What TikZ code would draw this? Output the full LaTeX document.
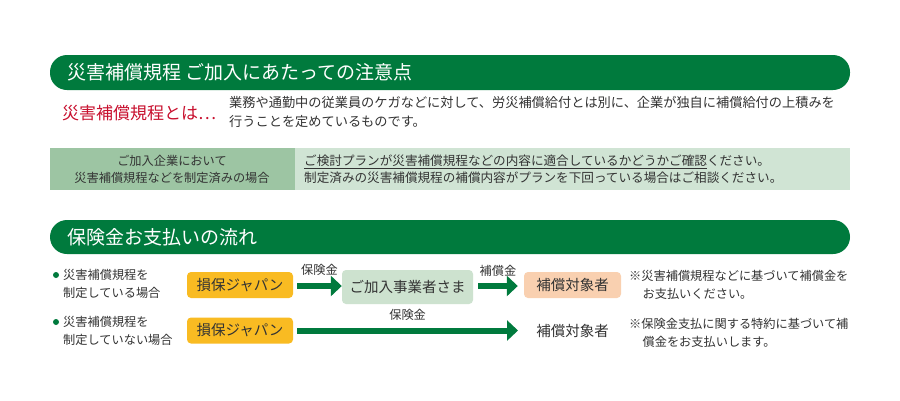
\documentclass[tikz,border=0pt]{standalone}
\usepackage{fontspec}
\setmainfont{Noto Sans CJK JP}
\usetikzlibrary{arrows.meta}
\definecolor{dg}{HTML}{007A3D}
\definecolor{cellA}{HTML}{9DC5A3}
\definecolor{cellB}{HTML}{D0E4D4}
\definecolor{orb}{HTML}{F9BB22}
\definecolor{grb}{HTML}{CDE2CF}
\definecolor{pkb}{HTML}{F9D0B0}
\definecolor{rd}{HTML}{C8102E}
\definecolor{tx}{HTML}{333333}
\tikzset{
 bar/.style={fill=dg,rounded corners=17pt},
 bartext/.style={anchor=west,text=white,font=\fontsize{19}{19}\selectfont,inner sep=0pt},
 small/.style={text=tx,font=\fontsize{12.2}{18}\selectfont,inner sep=0pt},
 boxo/.style={fill=orb,rounded corners=4pt,minimum width=106pt,minimum height=26pt,text=tx,font=\fontsize{14.5}{14}\selectfont},
 flow/.style={-{Triangle[length=11pt,width=20pt]},line width=6pt,draw=dg},
}
\begin{document}
\begin{tikzpicture}[x=1pt,y=-1pt]
\useasboundingbox (0,0) rectangle (900,400);
\fill[white] (0,0) rectangle (900,400);
% header 1
\fill[bar] (50,55) rectangle (850,90);
\node[bartext] (h1) at (67,72.5) {災害補償規程 ご加入にあたっての注意点};
\node[anchor=west,text=rd,font=\fontsize{17}{17}\selectfont,inner sep=0pt] (red) at (62,113) {災害補償規程とは…};
\node[small,anchor=north west,align=left,font=\fontsize{13.2}{19}\selectfont] (body) at (229,96) {業務や通勤中の従業員のケガなどに対して、労災補償給付とは別に、企業が独自に補償給付の上積みを\\行うことを定めているものです。};
% table
\fill[cellA] (50,148) rectangle (295,190);
\fill[cellB] (295,148) rectangle (850,190);
\node[small,align=center,font=\fontsize{12.2}{17}\selectfont] (tl) at (172,169) {ご加入企業において\\災害補償規程などを制定済みの場合};
\node[small,anchor=west,align=left,font=\fontsize{12.6}{17}\selectfont] (tr) at (304,169) {\underline{ご検討プランが災害補償規程などの内容に適合しているかどうかご確認}ください。\\制定済みの災害補償規程の補償内容がプランを下回っている場合はご相談ください。};
% header 2
\fill[bar] (50,220) rectangle (850,254);
\node[bartext] (h2) at (67,237) {保険金お支払いの流れ};
% row 1
\fill[dg] (56,275) circle (3pt);
\node[small,anchor=west,align=left] (r1) at (63,284) {災害補償規程を\\制定している場合};
\node[boxo] (s1) at (240,285) {損保ジャパン};
\node[fill=grb,rounded corners=4pt,minimum width=131pt,minimum height=34pt,text=tx,font=\fontsize{14.5}{14}\selectfont] (k) at (407.5,287) {ご加入事業者さま};
\node[boxo,fill=pkb,minimum width=97pt] (t1) at (572.5,285) {補償対象者};
\draw[flow] (s1.east |- 0,286) ++(4,0) -- (k.west |- 0,286) node[midway,above=7pt,small] {保険金};
\draw[flow] (k.east |- 0,286) ++(5,0) -- ([xshift=-6pt]t1.west |- 0,286) node[midway,above=7pt,small] {補償金};
\node[small,anchor=west,align=left] (n1) at (629,285) {※災害補償規程などに基づいて補償金を\\\hspace{1.1em}お支払いください。};
% row 2
\fill[dg] (56,322) circle (3pt);
\node[small,anchor=west,align=left] (r2) at (63,331) {災害補償規程を\\制定していない場合};
\node[boxo] (s2) at (240,330.5) {損保ジャパン};
\node[text=tx,font=\fontsize{14.5}{14}\selectfont] (t2) at (572.5,330.5) {補償対象者};
\coordinate (e2) at (518,330.5);
\draw[flow] ([xshift=4pt]s2.east) -- (e2) node[midway,above=7pt,small] {保険金};
\node[small,anchor=west,align=left] (n2) at (629,333) {※保険金支払に関する特約に基づいて補\\\hspace{1.1em}償金をお支払いします。};
\end{tikzpicture}
\end{document}
